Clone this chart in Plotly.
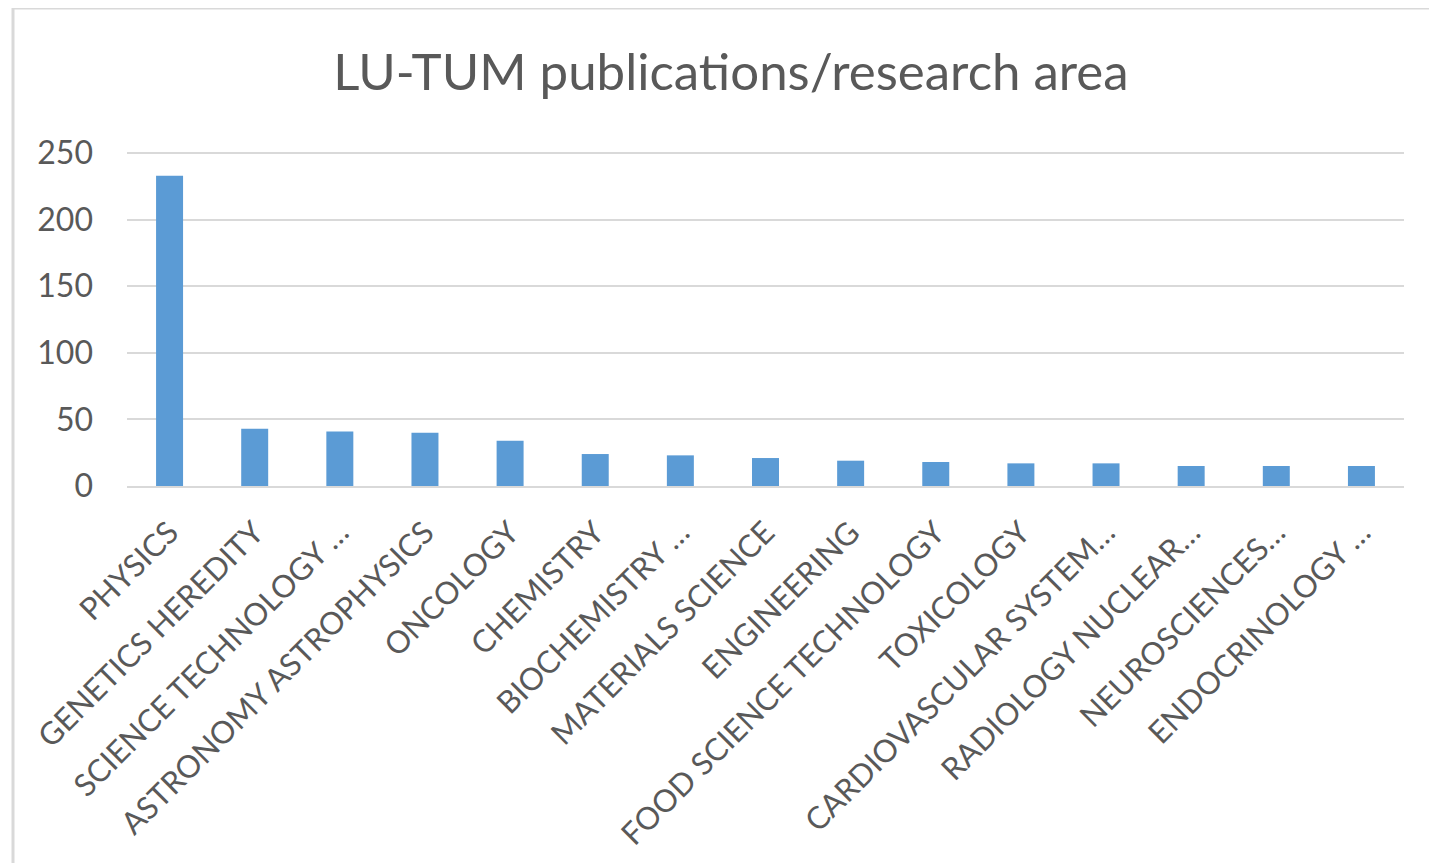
import plotly.graph_objects as go

categories = ["PHYSICS", "GENETICS HEREDITY", "SCIENCE TECHNOLOGY …", "ASTRONOMY ASTROPHYSICS",
              "ONCOLOGY", "CHEMISTRY", "BIOCHEMISTRY …", "MATERIALS SCIENCE", "ENGINEERING",
              "FOOD SCIENCE TECHNOLOGY", "TOXICOLOGY", "CARDIOVASCULAR SYSTEM…", "RADIOLOGY NUCLEAR…",
              "NEUROSCIENCES…", "ENDOCRINOLOGY …"]
values = [233, 43, 41, 40, 34, 24, 23, 21, 19, 18, 17, 17, 15, 15, 15]
y_ticks = [0, 50, 100, 150, 200, 250]
title_text = "LU-TUM publications/research area"

# the page places the figure at an 8px body offset
W, H = 1429, 855
ml, mr, mt, mb = 119, 33, 142, 377
pw = W - ml - mr
ph = H - mt - mb

FONT = "Lato"
GRAY = "#595959"

fig = go.Figure(go.Bar(x=categories, y=values, marker=dict(color="#5b9bd5", line=dict(width=0))))

fig.update_layout(
    width=W, height=H,
    margin=dict(l=ml, r=mr, t=mt, b=mb, autoexpand=False),
    paper_bgcolor="white", plot_bgcolor="white",
    bargap=0.683,
    showlegend=False,
    title=dict(text=title_text, x=723 / W, xanchor="center", y=1 - 64 / H, yanchor="middle",
               font=dict(family=FONT, size=51, color=GRAY)),
    font=dict(family=FONT, color=GRAY),
)
fig.update_yaxes(range=[0, 250 * ph / 333], tickvals=y_ticks, showgrid=True, gridcolor="#d9d9d9", gridwidth=2,
                 zeroline=False, showline=False, ticks="", ticklabelstandoff=33,
                 tickfont=dict(family=FONT, size=32, color=GRAY))
fig.update_xaxes(showgrid=False, showline=True, linecolor="#d9d9d9", linewidth=2, ticks="",
                 tickangle=-45, ticklabelstandoff=14,
                 tickfont=dict(family=FONT, size=31, color=GRAY))

# chart frame (top and left edges)
def px_x(x):
    return (x - ml) / pw

def px_y(y):
    return (H - mb - y) / ph

fig.add_shape(type="line", xref="paper", yref="paper", x0=px_x(5), x1=px_x(W + 5), y0=px_y(0), y1=px_y(0),
              line=dict(color="#d9d9d9", width=3))
fig.add_shape(type="line", xref="paper", yref="paper", x0=px_x(5), x1=px_x(5), y0=px_y(0), y1=px_y(H + 5),
              line=dict(color="#d9d9d9", width=3))

fig.write_html("out.html")
